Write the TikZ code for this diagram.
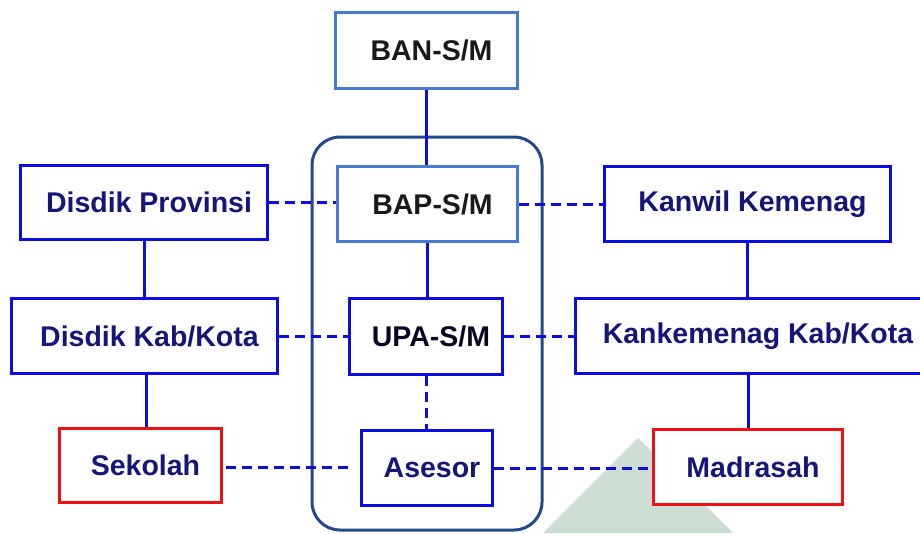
\documentclass[tikz,border=0pt]{standalone}
\usepackage{fontspec}
\setmainfont{Liberation Sans}
\usepackage{xcolor}
\usepackage{tikz}
\usetikzlibrary{calc,positioning}

\definecolor{orgblue}{RGB}{12,12,228}
\definecolor{topblue}{RGB}{72,122,208}
\definecolor{orgtext}{RGB}{22,22,120}
\definecolor{frameblue}{RGB}{36,72,138}
\definecolor{orgred}{RGB}{240,16,20}
\definecolor{wmark}{RGB}{204,222,212}

\tikzset{
  orgbox/.style={draw=orgblue, line width=3pt, fill=white, inner sep=0pt,
    text=orgtext, font=\fontsize{28.5}{32}\selectfont\bfseries,
    execute at begin node={\hspace*{10pt}}},
  topbox/.style={orgbox, draw=topblue, text=black!90},
  redbox/.style={orgbox, draw=orgred},
  link/.style={draw=orgblue, line width=3pt},
  dlink/.style={link, dash pattern=on 10pt off 6pt}
}

\begin{document}
\begin{tikzpicture}[x=1pt,y=-1pt]
            \useasboundingbox (0,0) rectangle (920,533);
            \clip (0,0) rectangle (920,533);
            % watermark and frame
            \fill[wmark] (638,438) -- (733,533) -- (543,533) -- cycle;
            \draw[frameblue, line width=3pt, rounded corners=28pt] (312,137) rectangle (542,530);
            % boxes
            \node[topbox, minimum width=182pt, minimum height=76pt] at (426.5,50.5) (ban) {BAN-S/M};
            \node[topbox, minimum width=180pt, minimum height=75pt] at (427.5,204) (bap) {BAP-S/M};
            \node[orgbox, minimum width=153pt, minimum height=76pt, text=black!70!orgtext] at (426,336.5) (upa) {UPA-S/M};
            \node[orgbox, minimum width=131pt, minimum height=75pt] at (427,468) (asesor) {Asesor};
            \node[orgbox, minimum width=247pt, minimum height=74pt] at (144,202.5) (dprov) {Disdik Provinsi};
            \node[orgbox, minimum width=266pt, minimum height=75pt] at (144.5,336) (dkab) {Disdik Kab/Kota};
            \node[redbox, minimum width=162pt, minimum height=74pt] at (140.5,465.5) (sekolah) {Sekolah};
            \node[orgbox, minimum width=286pt, minimum height=75pt] at (747.5,204) (kanwil) {Kanwil Kemenag};
            \node[orgbox, minimum width=355pt, minimum height=75pt] at (753,336) (kkab) {Kankemenag Kab/Kota};
            \node[redbox, minimum width=189pt, minimum height=75pt] at (748,467) (madrasah) {Madrasah};
            % solid lines
            \draw[link] (ban.south) -- (ban.south |- bap.north);
            \draw[link] (bap.south) -- (bap.south |- upa.north);
            \draw[link] (dprov.south) -- (dprov.south |- dkab.north);
            \draw[link] ($(dkab.south)+(1.5,0)$) -- ($(dkab.south |- sekolah.north)+(1.5,0)$);
            \draw[link] (kanwil.south) -- (kanwil.south |- kkab.north);
            \draw[link] (madrasah.north |- kkab.south) -- (madrasah.north);
            % dashed lines
            \draw[dlink] (upa.south) -- (upa.south |- asesor.north);
            \draw[dlink] (dprov.east) -- (dprov.east -| bap.west);
            \draw[dlink] (bap.east) -- (bap.east -| kanwil.west);
            \draw[dlink] (dkab.east) -- (dkab.east -| upa.west);
            \draw[dlink] (upa.east) -- (upa.east -| kkab.west);
            \draw[dlink] ($(sekolah.east)+(3,1.5)$) -- ($(sekolah.east -| asesor.west)+(-6,1.5)$);
            \draw[dlink] (asesor.east) -- (asesor.east -| madrasah.west);
        \end{tikzpicture}
\end{document}
